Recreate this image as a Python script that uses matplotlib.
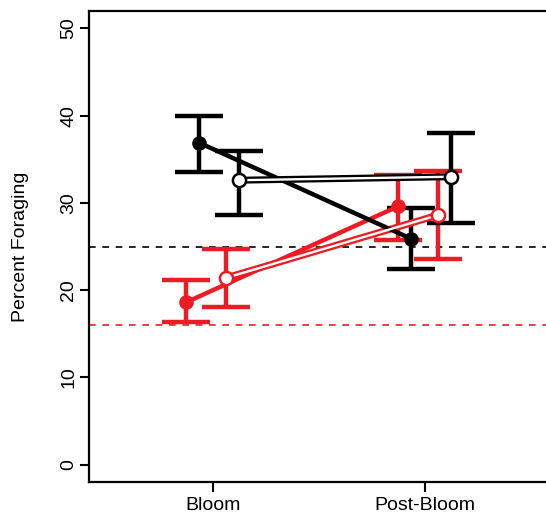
import matplotlib.pyplot as plt
import numpy as np

plt.rcParams['font.family'] = ['Liberation Sans', 'DejaVu Sans']

groups = ["Bloom", "Post-Bloom"]

# mean and error bar ends for each series
black_filled = [36.9, 25.9]
black_filled_lo = [33.5, 22.4]
black_filled_hi = [40.0, 29.4]

black_open = [32.6, 33.0]
black_open_lo = [28.6, 27.7]
black_open_hi = [36.0, 38.0]

red_filled = [18.6, 29.6]
red_filled_lo = [16.3, 25.7]
red_filled_hi = [21.2, 33.2]

red_open = [21.4, 28.6]
red_open_lo = [18.1, 23.6]
red_open_hi = [24.7, 33.6]

black_ref = 25
red_ref = 16

RED = "#ED1C24"
BLACK = "#000000"

W, H = 546, 517
fig = plt.figure(figsize=(W / 100, H / 100), dpi=100)
left, right, top, bottom = 89, 560, 11, 482
ax = fig.add_axes([left / W, 1 - bottom / H, (right - left) / W, (bottom - top) / H])

x = np.arange(1, len(groups) + 1)


def series(ax, xpos, y, lo, hi, color, filled):
    y = np.array(y)
    yerr = np.array([y - np.array(lo), np.array(hi) - y])
    ax.errorbar(xpos, y, yerr=yerr, fmt="none", ecolor=color, elinewidth=3.2,
                capsize=17, capthick=3.2, zorder=3)
    if filled:
        ax.plot(xpos, y, color=color, lw=3.2, solid_capstyle="round", zorder=4)
        ax.plot(xpos, y, "o", color=color, ms=9.5, zorder=5)
    else:
        ax.plot(xpos, y, color=color, lw=5.0, zorder=4)
        ax.plot(xpos, y, color="white", lw=1.7, zorder=4.1)
        ax.plot(xpos, y, "o", mfc="white", mec=color, mew=1.8, ms=9.5, zorder=5)


ax.axhline(black_ref, color=BLACK, lw=1.2, ls=(0, (4, 4)), zorder=1)
ax.axhline(red_ref, color=RED, lw=1.2, ls=(0, (4, 4)), zorder=1)

series(ax, x - 0.127, red_filled, red_filled_lo, red_filled_hi, RED, True)
series(ax, x + 0.061, red_open, red_open_lo, red_open_hi, RED, False)
series(ax, x - 0.066, black_filled, black_filled_lo, black_filled_hi, BLACK, True)
series(ax, x + 0.123, black_open, black_open_lo, black_open_hi, BLACK, False)

ax.set_xlim(1 - 124 / 212, 1 + (right - 213) / 212)
ax.set_ylim(-2, 52)
ax.set_xticks(x)
ax.set_xticklabels(groups)
ax.set_yticks(np.arange(0, 51, 10))
for lab in ax.get_yticklabels():
    lab.set_rotation(90)
    lab.set_va("center")

ax.tick_params(axis="both", direction="out", width=1.5, labelsize=14)
ax.tick_params(axis="y", length=6.5, pad=2)
ax.tick_params(axis="x", length=7, pad=4)
for sp in ax.spines.values():
    sp.set_linewidth(1.6)
ax.spines["right"].set_visible(False)

ax.set_ylabel("Percent Foraging", fontsize=14)
ax.yaxis.set_label_coords(-0.128, 0.5)

fig.savefig("out.png", dpi=100)
